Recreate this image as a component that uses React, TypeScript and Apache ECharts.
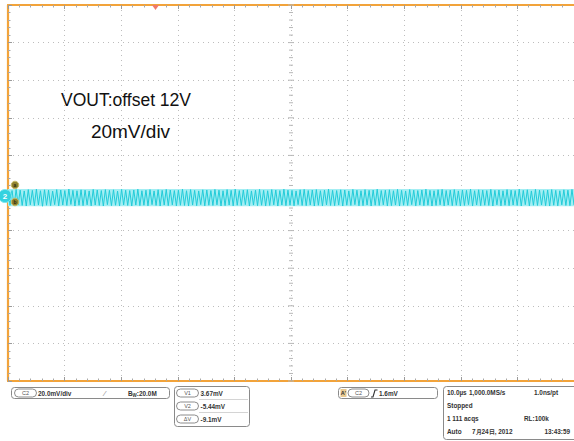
import React, { useEffect, useRef } from "react";
import * as echarts from "echarts";

// ---- data (mV, channel 2) ----
const peakValues = [
  3.2, 2.9, 3.5, 3.1, 2.7, 3.4, 3.0, 3.6, 2.8, 3.3,
  3.1, 2.6, 3.4, 3.2, 2.9, 3.67, 3.0, 2.8, 3.3, 3.1,
  2.7, 3.5, 3.2, 2.9, 3.4, 3.0, 3.3, 2.6, 3.5, 3.1,
  2.9, 3.2, 3.6, 2.8, 3.1, 3.4, 2.7, 3.3, 3.0, 3.5,
  3.2, 2.9, 3.1, 3.6, 2.8, 3.4, 3.0, 2.7, 3.3, 3.2,
  2.9, 3.5, 3.1, 2.8, 3.4, 3.0, 3.6, 2.9, 3.2, 3.3,
  2.7, 3.1, 3.5, 3.0, 2.8, 3.4, 3.2, 2.9, 3.6, 3.1,
  3.0, 2.7, 3.3, 3.5, 2.9, 3.2, 3.4, 2.8, 3.1, 3.6,
  3.0, 2.9, 3.3, 3.2, 2.7, 3.5, 3.1, 2.8, 3.4, 3.0,
  3.2, 3.6, 2.9, 3.1, 3.3, 2.8, 3.5, 3.0, 2.7, 3.4,
  3.1, 2.9, 3.2, 3.6, 3.0, 2.8, 3.3, 3.5, 2.9, 3.1,
  3.4, 2.7, 3.2, 3.0, 3.6, 2.8, 3.3, 3.1, 2.9, 3.5,
  3.0, 3.2, 2.8, 3.4, 3.1, 2.9, 3.6, 3.0, 3.3, 2.7,
  3.5, 3.1, 2.9, 3.2, 3.4, 3.0, 2.8, 3.3, 3.1, 3.5,
];
const troughValues = [
  -4.9, -5.2, -4.6, -5.0, -5.3, -4.7, -5.1, -4.8, -5.44, -4.9,
  -5.1, -4.6, -5.2, -4.8, -5.0, -4.5, -5.3, -4.9, -5.1, -4.7,
  -5.2, -4.8, -5.0, -5.3, -4.6, -5.1, -4.9, -5.2, -4.7, -5.0,
  -5.3, -4.8, -5.1, -4.9, -5.2, -4.6, -5.0, -5.3, -4.8, -5.1,
  -4.7, -5.2, -4.9, -5.0, -5.3, -4.8, -5.1, -4.6, -5.2, -4.9,
  -5.0, -4.7, -5.3, -5.1, -4.8, -5.2, -4.9, -5.0, -4.6, -5.3,
  -4.8, -5.1, -4.9, -5.2, -5.0, -4.7, -5.3, -4.8, -5.1, -4.9,
  -5.2, -4.6, -5.0, -5.1, -4.8, -5.3, -4.9, -5.2, -4.7, -5.0,
  -5.1, -4.8, -5.3, -4.9, -5.0, -4.6, -5.2, -5.1, -4.8, -5.3,
  -4.9, -5.0, -4.7, -5.2, -5.1, -4.8, -5.3, -4.9, -5.0, -4.6,
  -5.2, -4.8, -5.1, -4.9, -5.3, -5.0, -4.7, -5.2, -4.8, -5.1,
  -4.9, -5.3, -5.0, -4.6, -5.2, -4.8, -5.1, -4.9, -5.0, -5.3,
  -4.7, -5.2, -4.9, -5.1, -4.8, -5.0, -5.3, -4.6, -5.2, -4.9,
  -5.0, -4.8, -5.1, -5.3, -4.9, -5.2, -4.7, -5.0, -5.1, -4.8,
];

const annotationLines = ["VOUT:offset 12V", "20mV/div"];
const channelLabel = "C2";
const verticalScale = "20.0mV/div";
const bandwidthLimit = ":20.0M";
const cursorNames = ["V1", "V2", "\u0394V"];
const cursorReadings = ["3.67mV", "-5.44mV", "-9.1mV"];
const triggerLevel = "1.6mV";
const timeBase = "10.0\u00b5s";
const sampleRate = "1,000.0MS/s";
const resolution = "1.0ns/pt";
const runState = "Stopped";
const acquisitions = "1 111 acqs";
const recordLength = "RL:100k";
const triggerMode = "Auto";
const dateText = "7\u670824\u65e5, 2012";
const timeText = "13:43:59";

// screen: 10 x 10 divisions, 20 mV/div, channel zero 1.6 mV below centre
const divisions = 5;
const mvPerDiv = 20;
const screenCentreMv = 1.6;

const FONT = "Liberation Sans, Arial, Helvetica, sans-serif";
const ORANGE = "#f2a33a";
const TRACE = "#22cbd8";
const INFO_SIZE = 6.4;

function pill(x: number, y: number, w: number, label: string) {
  return {
    type: "group",
    children: [
      {
        type: "rect",
        shape: { x: x, y: y, width: w, height: 8, r: 4 },
        style: { fill: "#fff", stroke: "#707070", lineWidth: 0.8 },
      },
      {
        type: "text",
        x: x + w / 2,
        y: y + 4.3,
        style: {
          text: label,
          fontSize: 5.5,
          fontFamily: FONT,
          fill: "#555",
          align: "center",
          verticalAlign: "middle",
        },
      },
    ],
  };
}

function info(x: number, y: number, text: string, align = "left") {
  return {
    type: "text",
    x,
    y,
    style: {
      text,
      fontSize: INFO_SIZE,
      fontWeight: "bold",
      fontFamily: FONT,
      fill: "#333",
      align,
      verticalAlign: "middle",
    },
  };
}

export default function App() {
  const ref = useRef<HTMLDivElement>(null);

  useEffect(() => {
    document.body.style.margin = "0";
    if (!ref.current) return;
    const chart = echarts.init(ref.current, undefined, { renderer: "svg" });

    const trace: number[] = [];
    peakValues.forEach((p, i) => {
      trace.push(p);
      trace.push(troughValues[i]);
    });
    const sampleIdx = trace.map((_, i) => String(i));
    const bandTop = Math.max(...peakValues);
    const bandBottom = Math.min(...troughValues);
    const bandBase = trace.map(() => bandBottom);
    const bandSpan = trace.map(() => bandTop - bandBottom);

    const ticks: number[][] = [];
    for (let k = -divisions * 5; k <= divisions * 5; k++) {
      const v = k / 5;
      ticks.push([0, v, 0]);
      ticks.push([v, 0, 1]);
    }

    const gridLine = { show: true, lineStyle: { color: "#bdbdbd", type: [1, 4], width: 1 } };

    const frameAxis = (position: string) => ({
      type: "value",
      min: -divisions,
      max: divisions,
      interval: 1,
      position,
      axisLine: { show: true, onZero: false, lineStyle: { color: ORANGE, width: 2.2 } },
      axisTick: { show: true, inside: true, length: 4, lineStyle: { color: "#9a9a9a", width: 1 } },
      minorTick: { show: true, splitNumber: 5, length: 2.5, lineStyle: { color: "#a8a8a8", width: 1 } },
      axisLabel: { show: false },
      splitLine: { show: false },
    });

    const option: any = {
      animation: false,
      backgroundColor: "#ffffff",
      grid: { left: 8, top: 5, width: 571, height: 376, containLabel: false },
      xAxis: [
        { ...frameAxis("bottom"), splitLine: gridLine },
        frameAxis("top"),
        { type: "category", data: sampleIdx, boundaryGap: false, show: false },
      ],
      yAxis: [
        { ...frameAxis("left"), splitLine: gridLine },
        {
          type: "value",
          min: screenCentreMv - divisions * mvPerDiv,
          max: screenCentreMv + divisions * mvPerDiv,
          show: false,
        },
      ],
      series: [
        {
          type: "custom",
          xAxisIndex: 0,
          yAxisIndex: 0,
          silent: true,
          data: ticks,
          renderItem: (params: any, api: any) => {
            const p = api.coord([api.value(0), api.value(1)]);
            const horiz = api.value(2) === 0;
            const major = Math.abs((horiz ? api.value(1) : api.value(0)) % 1) < 1e-6;
            const half = major ? 3 : 2;
            return {
              type: "line",
              shape: horiz
                ? { x1: p[0] - half, y1: p[1], x2: p[0] + half, y2: p[1] }
                : { x1: p[0], y1: p[1] - half, x2: p[0], y2: p[1] + half },
              style: { stroke: "#b8b8b8", lineWidth: 1 },
            };
          },
        },
        {
          type: "line",
          name: "bandBase",
          xAxisIndex: 2,
          yAxisIndex: 1,
          stack: "band",
          stackStrategy: "all",
          data: bandBase,
          symbol: "none",
          silent: true,
          lineStyle: { opacity: 0 },
        },
        {
          type: "line",
          name: "bandFill",
          xAxisIndex: 2,
          yAxisIndex: 1,
          stack: "band",
          stackStrategy: "all",
          data: bandSpan,
          symbol: "none",
          silent: true,
          lineStyle: { opacity: 0 },
          areaStyle: { color: "#a4eef3", opacity: 1 },
        },
        {
          type: "line",
          name: "C2",
          xAxisIndex: 2,
          yAxisIndex: 1,
          data: trace,
          showSymbol: false,
          symbol: "none",
          lineStyle: { color: TRACE, width: 1 },
        },
      ],
      graphic: {
        elements: [
          // annotation
          {
            type: "text",
            x: 126,
            y: 100,
            z: 100,
            style: {
              text: annotationLines[0],
              fontSize: 17.5,
              fontFamily: FONT,
              fill: "#111",
              align: "center",
              verticalAlign: "middle",
            },
          },
          {
            type: "text",
            x: 130.5,
            y: 131,
            z: 100,
            style: {
              text: annotationLines[1],
              fontSize: 19,
              fontFamily: FONT,
              fill: "#111",
              align: "center",
              verticalAlign: "middle",
            },
          },
          // trigger position marker
          {
            type: "polygon",
            z: 100,
            shape: { points: [[152, 5], [159, 5], [155.5, 10]] },
            style: { fill: "#f07a6a" },
          },
          // channel marker
          {
            type: "circle",
            z: 100,
            shape: { cx: 5, cy: 196, r: 6.5 },
            style: { fill: "#35d2df", stroke: "#7fe6ee", lineWidth: 1 },
          },
          {
            type: "text",
            x: 5,
            y: 196.5,
            z: 101,
            style: { text: "2", fontSize: 8, fontWeight: "bold", fontFamily: FONT, fill: "#fff", align: "center", verticalAlign: "middle" },
          },
          // cursor markers
          {
            type: "circle",
            z: 100,
            shape: { cx: 15, cy: 185, r: 3.8 },
            style: { fill: "#8f8230", stroke: "#c8bb6a", lineWidth: 1 },
          },
          {
            type: "text",
            x: 15,
            y: 185,
            z: 101,
            style: { text: "a", fontSize: 5, fontWeight: "bold", fontFamily: FONT, fill: "#2a2a10", align: "center", verticalAlign: "middle" },
          },
          {
            type: "circle",
            z: 100,
            shape: { cx: 15, cy: 202, r: 3.8 },
            style: { fill: "#8f8230", stroke: "#c8bb6a", lineWidth: 1 },
          },
          {
            type: "text",
            x: 15,
            y: 202,
            z: 101,
            style: { text: "b", fontSize: 5, fontWeight: "bold", fontFamily: FONT, fill: "#2a2a10", align: "center", verticalAlign: "middle" },
          },
          // panel 1: channel settings
          {
            type: "rect",
            shape: { x: 11.5, y: 387.5, width: 158, height: 11, r: 3 },
            style: { fill: "#fff", stroke: "#8a8a8a", lineWidth: 1 },
          },
          pill(14.5, 389, 22, channelLabel),
          info(38, 393.5, verticalScale),
          {
            type: "text",
            x: 105,
            y: 393.5,
            style: { text: "\u2044", fontSize: 8, fontFamily: FONT, fill: "#888", align: "center", verticalAlign: "middle" },
          },
          {
            type: "text",
            x: 128,
            y: 393.5,
            style: {
              text: "{b|B}{w|W}{v|" + bandwidthLimit + "}",
              verticalAlign: "middle",
              rich: {
                b: { fontSize: INFO_SIZE, fontWeight: "bold", fontFamily: FONT, fill: "#333", lineHeight: 9 },
                w: { fontSize: 4.5, fontWeight: "bold", fontFamily: FONT, fill: "#333", verticalAlign: "bottom", lineHeight: 9 },
                v: { fontSize: INFO_SIZE, fontWeight: "bold", fontFamily: FONT, fill: "#333", lineHeight: 9 },
              },
            },
          },
          // panel 2: cursors
          {
            type: "rect",
            shape: { x: 174.5, y: 386.5, width: 75, height: 40, r: 3 },
            style: { fill: "#fff", stroke: "#8a8a8a", lineWidth: 1 },
          },
          {
            type: "line",
            shape: { x1: 199, y1: 399.5, x2: 248, y2: 399.5 },
            style: { stroke: "#d4d4d4", lineWidth: 1 },
          },
          {
            type: "line",
            shape: { x1: 199, y1: 412.5, x2: 248, y2: 412.5 },
            style: { stroke: "#d4d4d4", lineWidth: 1 },
          },
          ...cursorNames.map((n, i) => pill(176.5, 389 + i * 13, 22, n)),
          ...cursorReadings.map((v, i) => info(200.5, 393.5 + i * 13, v)),
          // panel 3: trigger
          {
            type: "rect",
            shape: { x: 338.5, y: 387.5, width: 99, height: 11, r: 3 },
            style: { fill: "#fff", stroke: "#8a8a8a", lineWidth: 1 },
          },
          {
            type: "rect",
            shape: { x: 340.5, y: 389, width: 6, height: 8 },
            style: { fill: "#e9c98f" },
          },
          {
            type: "text",
            x: 343.5,
            y: 393.3,
            style: { text: "A'", fontSize: 5.5, fontWeight: "bold", fontFamily: FONT, fill: "#333", align: "center", verticalAlign: "middle" },
          },
          pill(348, 389, 21, channelLabel),
          {
            type: "polyline",
            shape: { points: [[371, 397], [373, 397], [375, 390], [377.5, 390]] },
            style: { stroke: "#333", lineWidth: 1.1, fill: null },
          },
          info(379, 393.5, triggerLevel),
          // panel 4: acquisition
          {
            type: "rect",
            shape: { x: 443.5, y: 386.5, width: 150, height: 53, r: 3 },
            style: { fill: "#fff", stroke: "#8a8a8a", lineWidth: 1 },
          },
          info(447, 392.5, timeBase),
          info(469, 392.5, sampleRate),
          info(534, 392.5, resolution),
          info(447, 405.5, runState),
          info(447, 418.5, acquisitions),
          info(524, 418.5, recordLength),
          info(447, 431.5, triggerMode),
          info(472, 431.5, dateText),
          info(570, 431.5, timeText, "right"),
        ],
      },
    };

    chart.setOption(option);
    return () => chart.dispose();
  }, []);

  return <div ref={ref} style={{ width: 574, height: 441 }} />;
}
